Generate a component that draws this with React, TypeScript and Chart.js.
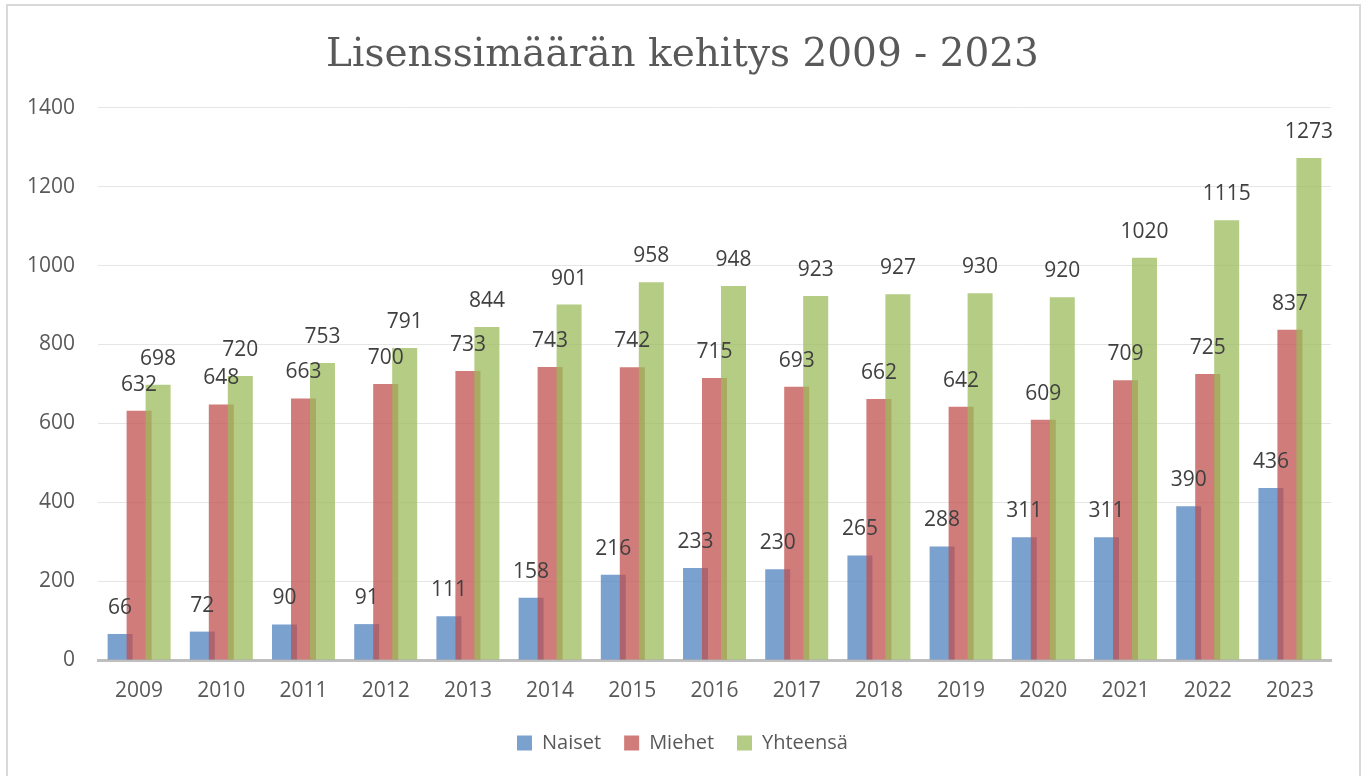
import React, { useEffect, useRef } from "react";
import { Chart, registerables } from "chart.js";

Chart.register(...registerables);

const title = "Lisenssimäärän kehitys 2009 - 2023";
const years = ["2009", "2010", "2011", "2012", "2013", "2014", "2015", "2016", "2017", "2018", "2019", "2020", "2021", "2022", "2023"];
const naiset = [66, 72, 90, 91, 111, 158, 216, 233, 230, 265, 288, 311, 311, 390, 436];
const miehet = [632, 648, 663, 700, 733, 743, 742, 715, 693, 662, 642, 609, 709, 725, 837];
const yhteensa = [698, 720, 753, 791, 844, 901, 958, 948, 923, 927, 930, 920, 1020, 1115, 1273];
const seriesNames = ["Naiset", "Miehet", "Yhteensä"];
const yTicks = { min: 0, max: 1400, step: 200 };

const colors = ["rgba(79,129,189,0.75)", "rgba(192,80,77,0.75)", "rgba(155,187,89,0.75)"];
const FONT = "'Open Sans', sans-serif";

const drawPlugin = {
  id: "customDraw",
  beforeDraw(chart: any) {
    const ctx = chart.ctx;
    ctx.save();
    ctx.strokeStyle = "#D9D9D9";
    ctx.lineWidth = 2;
    ctx.strokeRect(7, 5, 1353, 800);
    ctx.restore();
  },
  beforeDatasetsDraw(chart: any) {
    const ctx = chart.ctx;
    const metas = chart.getSortedVisibleDatasetMetas();
    // draw in dataset order so later series sit on top
    for (let i = 0; i < metas.length; i++) {
      metas[i].controller.draw();
    }
    ctx.save();
    ctx.font = `21px ${FONT}`;
    ctx.fillStyle = "#404040";
    ctx.textAlign = "center";
    ctx.textBaseline = "middle";
    for (const meta of metas) {
      const data = chart.data.datasets[meta.index].data;
      meta.data.forEach((el: any, j: number) => {
        ctx.fillText(String(data[j]), el.x, el.y - 26);
      });
    }
    ctx.restore();
    return false;
  },
};

export default function App() {
  const ref = useRef<HTMLCanvasElement | null>(null);
  useEffect(() => {
    if (!ref.current) return;
    const chart = new Chart(ref.current, {
      type: "bar",
      data: {
        labels: years,
        datasets: [naiset, miehet, yhteensa].map((d, i) => ({
          label: seriesNames[i],
          data: d,
          backgroundColor: colors[i],
          borderWidth: 0,
          categoryPercentage: 0.693,
          barPercentage: 1.316,
        })),
      },
      options: {
        animation: false,
        responsive: false,
        maintainAspectRatio: false,
        layout: { padding: { top: 0, left: 0, right: 0, bottom: 13 } },
        plugins: {
          tooltip: { enabled: false },
          title: {
            display: true,
            text: title,
            color: "#595959",
            font: { family: "'DejaVu Serif', serif", size: 39, weight: "normal", lineHeight: 1.2 },
            padding: { top: 32, bottom: 29 },
          },
          legend: {
            display: true,
            position: "bottom",
            labels: {
              color: "#595959",
              font: { family: FONT, size: 20 },
              boxWidth: 15,
              boxHeight: 15,
              padding: 23,
            },
          },
        },
        scales: {
          x: {
            grid: { display: false, drawTicks: false },
            border: { display: true, color: "#BFBFBF", width: 3 },
            ticks: { color: "#595959", font: { family: FONT, size: 21 }, padding: 18 },
            afterFit: (s: any) => {
              s.height = 50;
            },
          },
          y: {
            min: yTicks.min,
            max: yTicks.max,
            grid: { color: "#E6E6E6", lineWidth: 1, drawTicks: false },
            border: { display: false },
            ticks: {
              stepSize: yTicks.step,
              color: "#595959",
              font: { family: FONT, size: 21 },
              padding: 23,
              callback: (v: any) => String(v),
            },
            afterFit: (s: any) => {
              s.width = 98;
            },
          },
          yRight: {
            position: "right",
            display: true,
            min: 0,
            max: 1,
            grid: { display: false, drawTicks: false },
            border: { display: false },
            ticks: { display: false },
            afterFit: (s: any) => {
              s.width = 34;
            },
          },
        },
      },
      plugins: [drawPlugin],
    });
    return () => chart.destroy();
  }, []);
  return (
    <div style={{ position: "fixed", left: 0, top: 0, width: 1365, height: 776, background: "#fff" }}>
      <canvas ref={ref} width={1365} height={776} style={{ width: 1365, height: 776, display: "block" }} />
    </div>
  );
}
